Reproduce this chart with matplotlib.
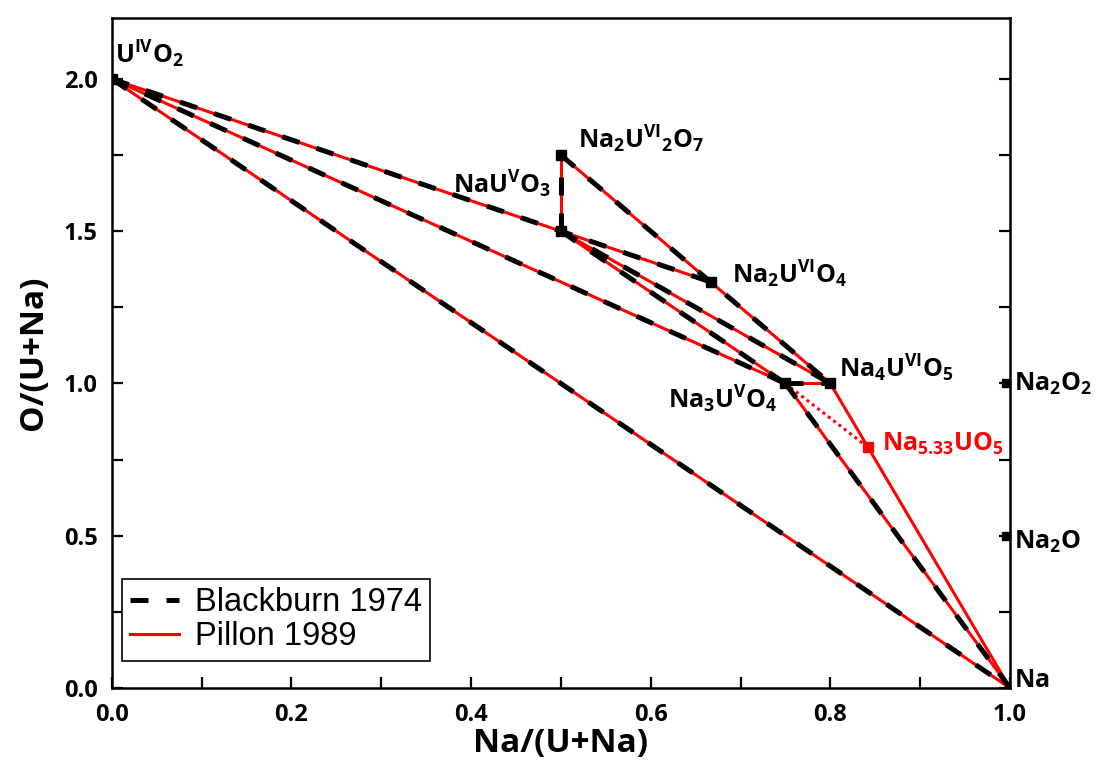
import matplotlib

matplotlib.use("Agg")

import matplotlib.pyplot as plt
from matplotlib.ticker import FormatStrFormatter, MultipleLocator


OUTPUT_FILENAME = "out.png"

# Phase compositions: Na/(U+Na) and O/(U+Na)
phase_names = ["UO2", "NaUO3", "Na2U2O7", "Na2UO4", "Na3UO4", "Na4UO5", "Na533UO5", "Na"]
na_ratio = [0.0, 0.5, 0.5, 0.6667, 0.75, 0.8, 0.842, 1.0]
o_ratio = [2.0, 1.5, 1.75, 1.3333, 1.0, 1.0, 0.79, 0.0]

# Tie lines (pairs of phases)
blackburn_ties = [
    ("UO2", "Na2UO4"), ("UO2", "Na3UO4"), ("UO2", "Na"),
    ("NaUO3", "Na2U2O7"), ("Na2U2O7", "Na4UO5"),
    ("NaUO3", "Na3UO4"), ("NaUO3", "Na4UO5"),
    ("Na3UO4", "Na4UO5"), ("Na3UO4", "Na"),
]
pillon_ties = blackburn_ties[:-2] + [
    ("Na3UO4", "Na4UO5"), ("Na3UO4", "Na"), ("Na4UO5", "Na"),
]
pillon_dotted = [("Na3UO4", "Na533UO5")]

marked_black = ["UO2", "NaUO3", "Na2U2O7", "Na2UO4", "Na3UO4", "Na4UO5"]
marked_red = ["Na533UO5"]

# Reference compositions on the right edge
edge_names = [r"$\mathrm{Na_2O_2}$", r"$\mathrm{Na_2O}$", r"$\mathrm{Na}$"]
edge_o = [1.0, 0.5, 0.0]
edge_baseline = [0.975, 0.457, 0.004]

# Phase labels and where their baselines sit (data coordinates)
labels = [
    (r"$\mathrm{U^{IV}O_2}$", 0.004, 2.05, "black"),
    (r"$\mathrm{Na_2U^{VI}{}_2O_7}$", 0.519, 1.772, "black"),
    (r"$\mathrm{NaU^{V}O_3}$", 0.38, 1.625, "black"),
    (r"$\mathrm{Na_2U^{VI}O_4}$", 0.69, 1.33, "black"),
    (r"$\mathrm{Na_4U^{VI}O_5}$", 0.81, 1.02, "black"),
    (r"$\mathrm{Na_3U^{V}O_4}$", 0.619, 0.917, "black"),
    (r"$\mathrm{Na_{5.33}UO_5}$", 0.857, 0.78, "red"),
]


def coords(name):
    i = phase_names.index(name)
    return na_ratio[i], o_ratio[i]


plt.rcParams["mathtext.fontset"] = "custom"
plt.rcParams["mathtext.rm"] = "Open Sans:bold"
plt.rcParams["mathtext.bf"] = "Open Sans:bold"
plt.rcParams["mathtext.it"] = "Open Sans:bold:italic"
plt.rcParams["font.family"] = ["Open Sans", "DejaVu Sans"]

fig = plt.figure(figsize=(10.96, 7.69), dpi=100)
ax = fig.add_axes([0.102, 0.1053, 0.8195, 0.8713])

for k, (a, b) in enumerate(pillon_ties):
    xa, ya = coords(a)
    xb, yb = coords(b)
    ax.plot([xa, xb], [ya, yb], color="red", lw=2.2, zorder=2,
            label="Pillon 1989" if k == 0 else None)

for a, b in pillon_dotted:
    xa, ya = coords(a)
    xb, yb = coords(b)
    ax.plot([xa, xb], [ya, yb], color="red", lw=2.2, ls=(0, (1, 1.2)), zorder=2)

for k, (a, b) in enumerate(blackburn_ties):
    xa, ya = coords(a)
    xb, yb = coords(b)
    ax.plot([xa, xb], [ya, yb], color="black", lw=3.6, ls=(0, (3.6, 3.6)),
            zorder=3, label="Blackburn 1974" if k == 0 else None)

ax.plot([coords(n)[0] for n in marked_black], [coords(n)[1] for n in marked_black],
        ls="none", marker="s", ms=7, color="black", zorder=4)
ax.plot([coords(n)[0] for n in marked_red], [coords(n)[1] for n in marked_red],
        ls="none", marker="s", ms=7, color="red", zorder=4)
ax.plot([0.996] * 2, edge_o[:2], ls="none", marker="s", ms=6, color="black",
        zorder=4, clip_on=False)

for text, x, y, col in labels:
    ax.text(x, y, text, color=col, fontsize=18, ha="left", va="baseline")

for text, y in zip(edge_names, edge_baseline):
    ax.text(1.005, y, text, fontsize=18, ha="left", va="baseline")

ax.set_xlim(0, 1.0)
ax.set_ylim(0, 2.2)
ax.xaxis.set_major_locator(MultipleLocator(0.2))
ax.xaxis.set_minor_locator(MultipleLocator(0.1))
ax.yaxis.set_major_locator(MultipleLocator(0.5))
ax.yaxis.set_minor_locator(MultipleLocator(0.25))
ax.xaxis.set_major_formatter(FormatStrFormatter("%.1f"))
ax.yaxis.set_major_formatter(FormatStrFormatter("%.1f"))
ax.tick_params(which="both", direction="in", length=8, width=1.6,
               right=True, top=False, labelsize=17)
ax.tick_params(axis="x", pad=11)
ax.tick_params(axis="y", pad=10)
for lbl in ax.get_xticklabels() + ax.get_yticklabels():
    lbl.set_fontweight("bold")
for spine in ax.spines.values():
    spine.set_linewidth(1.8)

ax.set_xlabel("Na/(U+Na)", fontsize=24, fontweight="bold", labelpad=0)
ax.set_ylabel("O/(U+Na)", fontsize=24, fontweight="bold", labelpad=10)

handles, names = ax.get_legend_handles_labels()
leg = ax.legend(handles[::-1], names[::-1], loc="lower left",
                bbox_to_anchor=(0.011, 0.041), fancybox=False,
                edgecolor="black", framealpha=1, handlelength=1.5,
                borderpad=0.25, labelspacing=0.1, handletextpad=0.5,
                borderaxespad=0,
                prop={"family": "Liberation Sans", "size": 23.5})
leg.get_frame().set_linewidth(1.2)

fig.savefig(OUTPUT_FILENAME, dpi=100)
plt.close(fig)
